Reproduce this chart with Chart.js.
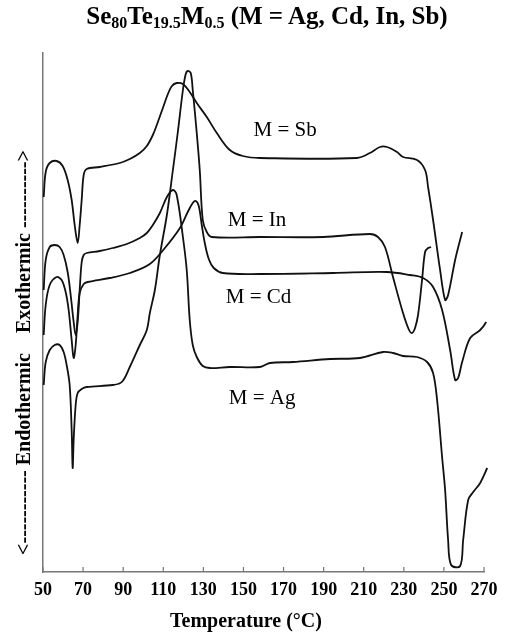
<!DOCTYPE html>
<html>
<head>
<meta charset="utf-8">
<script src="https://cdn.jsdelivr.net/npm/chart.js@4.4.1/dist/chart.umd.min.js"></script>
<style>
    body { margin: 0; background: #fff; }
    #wrap { position: relative; width: 524px; height: 640px; }
    #title {
        position: absolute; left: 10px; top: 2px; width: 514px;
        text-align: center; font: bold 25px "Liberation Serif"; color: #000;
        line-height: 28px;
    }
    #title sub { font-size: 16px; vertical-align: baseline; position: relative; top: 4px; }
    canvas { position: absolute; left: 0; top: 0; }
</style>
</head>
<body>
<div id="wrap">
    <canvas id="myChart" width="524" height="640"></canvas>
    <div id="title">Se<sub>80</sub>Te<sub>19.5</sub>M<sub>0.5</sub> (M = Ag, Cd, In, Sb)</div>
</div>
<script>
// temperature (°C) and heat flow (arbitrary units)
const sbTemp = [50.35, 51.35, 53.35, 56.8, 59.8, 62.3, 64.3, 65.8, 67.3, 68.3, 69.3, 70.3, 71.8, 78.3, 88.3, 93.3, 98.3, 101.8, 104.8, 107.3, 109.8, 112.3, 114.3, 116.7, 119.8, 123.2, 126.7, 131.7, 136.7, 143.2, 149.7, 158.2, 206.6, 213.1, 218.1, 221.6, 226.6, 229.6, 236.6, 240.6, 242.1, 244.6, 248.1, 250.6, 252.1, 255.6, 259.1];
const sbFlow = [375, 400, 409, 411, 406, 392, 372, 347, 329, 347, 372, 397, 403, 405, 409, 413, 419, 426, 437, 450, 464, 478, 486, 489, 488, 480, 469, 455, 439, 422, 416, 414, 414, 419, 425, 425, 420, 415, 412, 402, 385, 352, 302, 272, 277, 312, 340];

const inTemp = [50.35, 51.35, 53.35, 55.85, 58.3, 60.3, 61.8, 63.3, 64.3, 64.8, 65.3, 66.3, 67.3, 69.3, 71.8, 84.8, 89.3, 93.3, 98.3, 101.8, 103.3, 105.8, 108.3, 111.8, 114.8, 117.2, 119.8, 121.2, 122.2, 123.7, 124.7, 126.7, 128.2, 129.7, 131.7, 134.2, 158.2, 189.7, 213.1, 217.1, 220.6, 224.6, 229.6, 232.6, 234.1, 235.6, 237.1, 239.1, 240.6, 242.1, 243.6];
const inFlow = [187, 210, 222, 227, 227, 220, 207, 187, 142, 104, 132, 167, 179, 183, 185, 187, 190, 205, 227, 242, 259, 282, 317, 357, 402, 439, 482, 498, 501, 499, 482, 439, 402, 352, 340, 335, 335, 335, 338, 335, 325, 295, 259, 242, 239, 244, 257, 292, 320, 324, 325];

const cdTemp = [50.35, 51.35, 53.35, 56.8, 59.3, 61.3, 62.8, 64.3, 65.3, 66.3, 67.3, 68.3, 70.3, 72.3, 83.3, 93.3, 103.3, 110.8, 118.3, 122.2, 124.7, 126.2, 127.7, 129.2, 130.7, 132.7, 135.2, 139.7, 158.2, 194.7, 221.6, 233.1, 239.6, 244.6, 249.1, 253.1, 255.6, 257.1, 259.1, 263.1, 268.1, 271.1, 273.1];
const cdFlow = [237, 267, 287, 295, 292, 280, 262, 232, 214, 227, 257, 279, 288, 290, 294, 299, 308, 324, 344, 360, 369, 371, 366, 347, 329, 313, 304, 299, 298, 299, 300, 297, 294, 285, 262, 222, 192, 194, 210, 234, 242, 250, 260];

const agTemp = [50.35, 51.35, 53.35, 55.85, 58.3, 60.3, 62.3, 63.8, 65.3, 66.3, 67.3, 68.3, 69.3, 70.3, 71.8, 78.3, 84.8, 91.8, 98.3, 101.8, 104.8, 108.3, 111.8, 114.8, 116.7, 119.8, 121.7, 123.2, 124.7, 126.7, 129.7, 133.2, 143.2, 158.2, 163.2, 174.7, 193.2, 208.1, 219.6, 224.6, 229.6, 236.6, 241.6, 244.6, 246.6, 249.1, 250.6, 252.1, 253.6, 258.1, 259.6, 262.1, 264.6, 268.1, 271.6];
const agFlow = [282, 312, 325, 327, 325, 317, 300, 277, 250, 237, 250, 282, 310, 317, 319, 321, 324, 328, 334, 339, 347, 359, 375, 382, 377, 335, 302, 252, 227, 215, 206, 204, 205, 205, 209, 210, 213, 214, 220, 219, 216, 215, 210, 199, 172, 115, 82, 32, 7, 6, 32, 72, 80, 89, 104];

// curve labels, anchored in data units (left edge, vertical middle)
const curveLabels = ['M = Sb', 'M = In', 'M = Cd', 'M = Ag'];
const labelTemp = [155.0, 142.2, 141.2, 142.7];
const labelFlow = [442, 352, 275, 174];

const xTicks = [50, 70, 90, 110, 130, 150, 170, 190, 210, 230, 250, 270];

function toPoints(temps, flows) {
    return temps.map((t, i) => ({ x: t, y: flows[i] }));
}

function makeSet(label, temps, flows) {
    return {
        label: label,
        data: toPoints(temps, flows),
        borderColor: '#111',
        borderWidth: 1.8,
        pointRadius: 0,
        fill: false,
        tension: 0.35,
        clip: false
    };
}

// small tick marks pointing into the plot, plus the M = ... labels
const extras = {
    id: 'extras',
    afterDraw(chart) {
        const ctx = chart.ctx;
        const xs = chart.scales.x;
        const ys = chart.scales.y;
        const area = chart.chartArea;
        ctx.save();
        ctx.strokeStyle = '#777';
        ctx.lineWidth = 1.2;
        xTicks.forEach(v => {
            const px = xs.getPixelForValue(v);
            ctx.beginPath();
            ctx.moveTo(px, area.bottom);
            ctx.lineTo(px, area.bottom - 5);
            ctx.stroke();
        });
        ctx.fillStyle = '#000';
        ctx.font = '21px "Liberation Serif"';
        ctx.textAlign = 'left';
        ctx.textBaseline = 'middle';
        curveLabels.forEach((txt, i) => {
            ctx.fillText(txt, xs.getPixelForValue(labelTemp[i]), ys.getPixelForValue(labelFlow[i]));
        });
        ctx.restore();
    }
};

const ctx = document.getElementById('myChart').getContext('2d');

const myChart = new Chart(ctx, {
    type: 'line',
    data: {
        datasets: [
            makeSet('M = Sb', sbTemp, sbFlow),
            makeSet('M = In', inTemp, inFlow),
            makeSet('M = Cd', cdTemp, cdFlow),
            makeSet('M = Ag', agTemp, agFlow)
        ]
    },
    options: {
        responsive: false,
        animation: false,
        layout: { padding: { left: 0, right: 40, top: 53, bottom: 0 } },
        plugins: {
            legend: { display: false },
            tooltip: { enabled: false }
        },
        scales: {
            x: {
                type: 'linear',
                min: 50,
                max: 270,
                afterBuildTicks: scale => {
                    scale.ticks = xTicks.map(v => ({ value: v }));
                },
                afterFit: scale => { scale.height = 68; },
                grid: { display: false, drawTicks: false },
                border: { display: true, color: '#777', width: 1.5 },
                ticks: {
                    color: '#000',
                    padding: 8,
                    font: { family: 'Liberation Serif', size: 18, weight: 'bold' }
                },
                title: {
                    display: true,
                    text: 'Temperature (°C)       ',
                    color: '#000',
                    font: { family: 'Liberation Serif', size: 20, weight: 'bold' },
                    padding: { top: 0, bottom: 6 }
                }
            },
            y: {
                min: 0,
                max: 519,
                afterFit: scale => { scale.width = 43; },
                grid: { display: false, drawTicks: false },
                border: { display: true, color: '#777', width: 1.5 },
                ticks: { display: false },
                title: {
                    display: true,
                    text: '<----------- Endothermic    Exothermic ---------->                ',
                    color: '#000',
                    font: { family: 'Liberation Serif', size: 20, weight: 'bold' },
                    padding: { top: 13, bottom: 0 }
                }
            }
        }
    },
    plugins: [extras]
});
</script>
</body>
</html>
